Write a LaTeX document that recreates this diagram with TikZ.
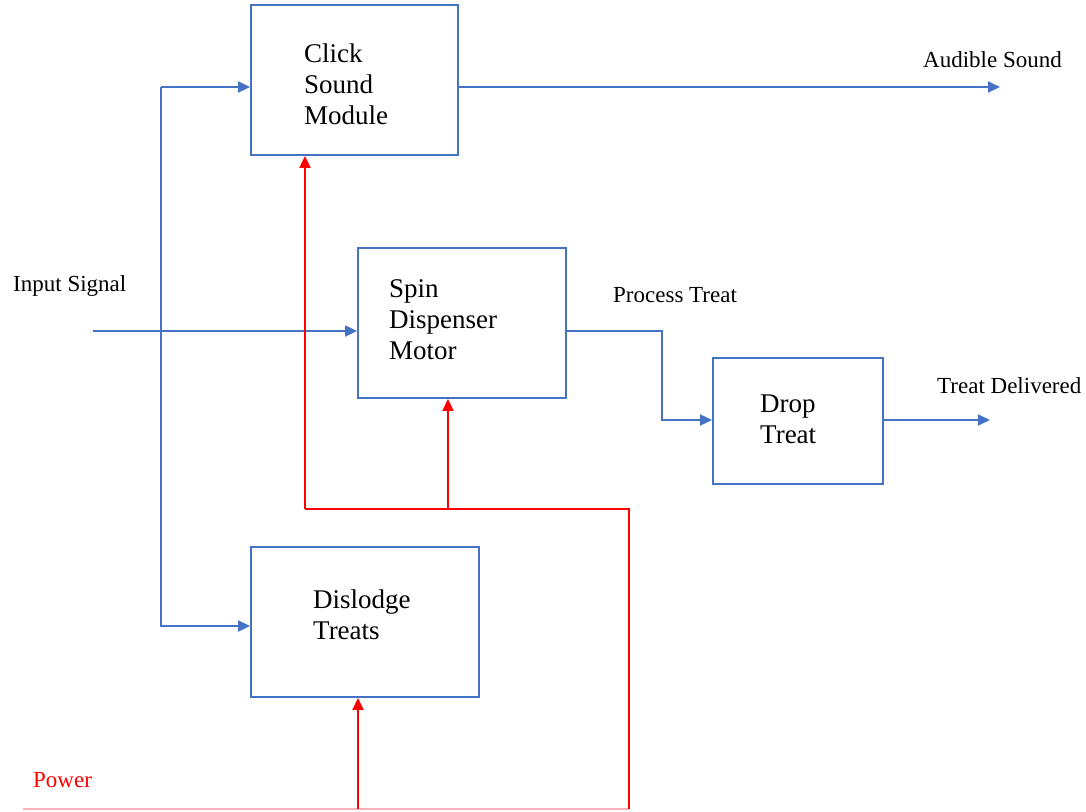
\documentclass[tikz,border=0pt]{standalone}
\usepackage{fontspec}
\setmainfont{Liberation Serif}
\usetikzlibrary{arrows.meta}
\definecolor{cblue}{HTML}{4472C4}
\definecolor{cred}{HTML}{FF0000}
\definecolor{cpink}{HTML}{FFB0B8}
\begin{document}
\begin{tikzpicture}[x=1pt,y=-1pt,
  box/.style={draw=cblue,line width=1.8pt,inner sep=0pt},
  boxtext/.style={anchor=west,inner sep=0pt,align=left,font=\fontsize{27}{31}\selectfont},
  lbl/.style={anchor=west,inner sep=0pt,font=\fontsize{23}{27}\selectfont},
  bline/.style={draw=cblue,line width=1.8pt},
  barrow/.style={bline,-{Triangle[length=12pt,width=11pt]}},
  rline/.style={draw=cred,line width=1.8pt},
  rarrow/.style={rline,-{Triangle[length=12pt,width=11pt]}}]
\useasboundingbox (0,0) rectangle (1086,811);
% boxes
\node[box,minimum width=207pt,minimum height=150pt] (click) at (354.5,80) {};
\node[box,minimum width=208pt,minimum height=150pt] (spin) at (462,323) {};
\node[box,minimum width=170pt,minimum height=126pt] (drop) at (798,421) {};
\node[box,minimum width=228pt,minimum height=150pt] (dislodge) at (365,622) {};
% box texts
\node[boxtext] (tclick) at (304,84.5) {Click\\Sound\\Module};
\node[boxtext] (tspin) at (389,320) {Spin\\Dispenser\\Motor};
\node[boxtext] (tdrop) at (760,419) {Drop\\Treat};
\node[boxtext] (tdis) at (313,615) {Dislodge\\Treats};
% labels
\node[lbl] (laud) at (923,60) {Audible Sound};
\node[lbl] (lin) at (13,286) {Input Signal};
\node[lbl] (lproc) at (613,295) {Process Treat};
\node[lbl] (ltd) at (937,386) {Treat Delivered};
\node[lbl,text=cred] (lpow) at (33,780) {Power};
% blue connectors
\coordinate (in) at (93,331);
\coordinate (vtop) at (161,87);
\coordinate (vbot) at (161,626);
\coordinate (aud) at (1000,87);
\coordinate (bend) at (662,331);
\coordinate (td) at (990,420);
\draw[barrow] (in) -- (in -| spin.west);
\draw[barrow] (vtop) -- (vtop -| click.west);
\draw[barrow] (vtop) |- (vbot -| dislodge.west);
\draw[barrow] (aud -| click.east) -- (aud);
\draw[barrow] (bend -| spin.east) -- (bend) |- (td -| drop.west);
\draw[barrow] (td -| drop.east) -- (td);
% red power connectors
\coordinate (pw) at (23,809);
\coordinate (pr) at (629,809);
\coordinate (pj) at (629,509);
\coordinate (ra) at (305,509);
\coordinate (rb) at (448,509);
\coordinate (rc) at (358,809);
\draw[draw=cpink,line width=1.8pt] (pw) -- (pr);
\draw[rline] (pr) -- (pj) -- (ra);
\draw[rarrow] (ra) -- (ra |- click.south);
\draw[rarrow] (rb) -- (rb |- spin.south);
\draw[rarrow] (rc) -- (rc |- dislodge.south);
\end{tikzpicture}
\end{document}
